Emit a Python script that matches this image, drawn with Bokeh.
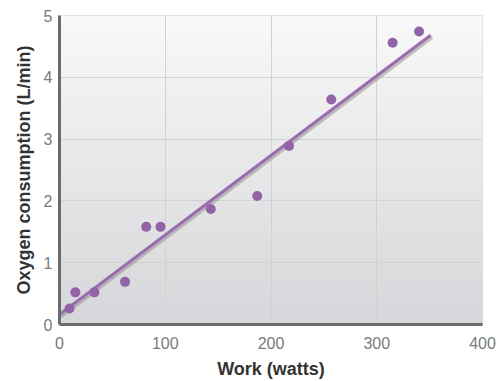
import numpy as np
from bokeh.plotting import figure
from bokeh.models import Range1d, FixedTicker
from bokeh.embed import file_html
from bokeh.resources import INLINE

# Data
work_watts = [9.5, 15, 33, 62, 82, 95.5, 143, 187, 217, 257, 315, 340]
oxygen_l_min = [0.26, 0.52, 0.52, 0.69, 1.58, 1.58, 1.87, 2.08, 2.89, 3.64, 4.56, 4.74]
fit_x = [0, 351]
fit_y = [0.16, 4.68]
x_ticks = [0, 100, 200, 300, 400]
y_ticks = [0, 1, 2, 3, 4, 5]

p = figure(width=502, height=381, output_backend="svg", toolbar_location=None,
           x_range=Range1d(0, 400), y_range=Range1d(0, 5),
           min_border_left=59, min_border_right=20, min_border_top=15, min_border_bottom=56)

# vertical gradient background of the plot area
n = 64
t = np.linspace(0, 1, n)[:, None]
top = np.array([249, 249, 249])
bot = np.array([214, 215, 218])
cols = (bot * (1 - t) + top * t).astype(np.uint32)
img = np.empty((n, 1), dtype=np.uint32)
view = img.view(dtype=np.uint8).reshape((n, 1, 4))
view[:, :, 0] = cols[:, 0:1]
view[:, :, 1] = cols[:, 1:2]
view[:, :, 2] = cols[:, 2:3]
view[:, :, 3] = 255
p.image_rgba(image=[img], x=0, y=0, dw=400, dh=5, level="image")

p.background_fill_color = "white"
p.border_fill_color = "white"
p.outline_line_color = "#dcdcdc"
p.outline_line_width = 1

p.xgrid.grid_line_color = "#d2d2d2"
p.ygrid.grid_line_color = "#d2d2d2"
p.xaxis.ticker = FixedTicker(ticks=x_ticks)
p.yaxis.ticker = FixedTicker(ticks=y_ticks)

for ax in (p.xaxis[0], p.yaxis[0]):
    ax.axis_line_color = "#6b6b6b"
    ax.axis_line_width = 3
    ax.major_tick_line_color = None
    ax.minor_tick_line_color = None
    ax.major_tick_out = 0
    ax.major_tick_in = 0
    ax.minor_tick_out = 0
    ax.minor_tick_in = 0
    ax.major_label_text_font = "Liberation Sans"
    ax.major_label_text_font_size = "16px"
    ax.major_label_text_color = "#7a7a7a"
    ax.axis_label_text_font = "Liberation Sans"
    ax.axis_label_text_font_size = "18px"
    ax.axis_label_text_font_style = "bold"
    ax.axis_label_text_color = "#333333"

p.xaxis.axis_label = "Work (watts)"
p.yaxis.axis_label = "Oxygen consumption (L/min)"
p.xaxis.major_label_standoff = 12
p.xaxis.axis_label_standoff = 7
p.yaxis.major_label_standoff = 7
p.yaxis.axis_label_standoff = 7

# regression line with a soft shadow
p.line([x + 1.5 for x in fit_x], [y - 0.035 for y in fit_y], line_color="#8a8a8a",
       line_width=3, line_alpha=0.5)
p.line(fit_x, fit_y, line_color="#9a6cad", line_width=3)

p.scatter(work_watts, oxygen_l_min, size=10, fill_color="#9363a8", line_color=None)

open("out.html", "w").write(file_html(p, INLINE))
